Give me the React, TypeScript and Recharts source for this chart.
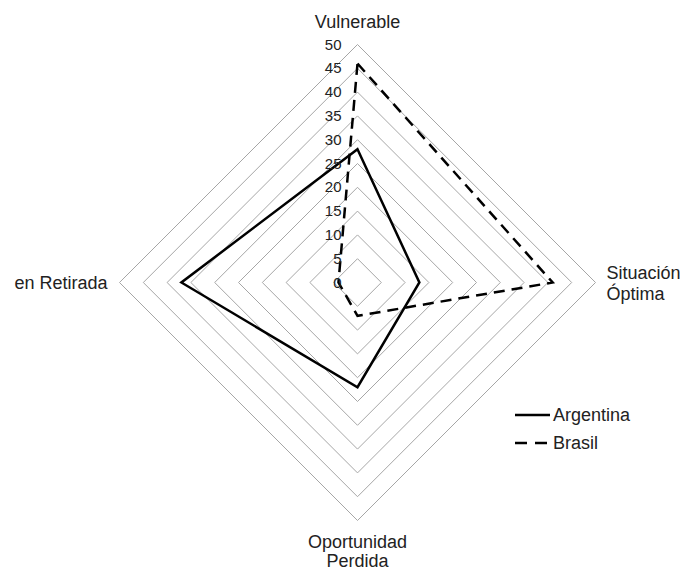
import React from 'react';
import { RadarChart, Radar, PolarGrid, PolarAngleAxis, PolarRadiusAxis, Legend } from 'recharts';

const axes = ['Vulnerable', 'Situación\nÓptima', 'Oportunidad\nPerdida', 'en Retirada'];
const argentina = [28, 13, 22, 37];
const brasil = [46, 41, 7, 4];
const radiusTicks = [0, 5, 10, 15, 20, 25, 30, 35, 40, 45, 50];

const data = axes.map((name, i) => ({ name, argentina: argentina[i], brasil: brasil[i] }));

const FONT = '"Liberation Sans", Arial, sans-serif';
const TEXT = '#222';
const LABEL_SIZE = 18;

const AngleTick = (props: any) => {
  const { x, y, payload, index } = props;
  const lines = String(payload.value).split('\n');
  let anchor: 'middle' | 'start' | 'end' = 'middle';
  let dx = 0;
  let dy = 0;
  let lh = 21;
  if (index === 0) { dy = -9; }
  else if (index === 1) { anchor = 'start'; dx = 3; dy = -4; }
  else if (index === 2) { dy = 19; lh = 19; }
  else { anchor = 'end'; dx = -4; dy = 6; }
  return (
    <text x={x + dx} y={y + dy} textAnchor={anchor} fontSize={LABEL_SIZE} fontFamily={FONT} fill={TEXT}>
      {lines.map((l, i) => (
        <tspan key={i} x={x + dx} dy={i === 0 ? 0 : lh}>{l}</tspan>
      ))}
    </text>
  );
};

const RadiusTick = (props: any) => {
  const { x, y, payload } = props;
  return (
    <text x={x - 16} y={y + 5} textAnchor="end" fontSize={15} fontFamily={FONT} fill={TEXT}>
      {payload.value}
    </text>
  );
};

const LegendContent = () => (
  <svg width={150} height={60}>
    <line x1={2} y1={10} x2={37} y2={10} stroke="#000" strokeWidth={2.5} />
    <text x={40} y={16} fontSize={LABEL_SIZE} fontFamily={FONT} fill={TEXT}>Argentina</text>
    <line x1={2} y1={38} x2={37} y2={38} stroke="#000" strokeWidth={2.5} strokeDasharray="12 8" />
    <text x={40} y={44} fontSize={LABEL_SIZE} fontFamily={FONT} fill={TEXT}>Brasil</text>
  </svg>
);

export default function App() {
  return (
    <div style={{ position: 'absolute', left: 0, top: 0, width: 682, height: 569, background: '#fff' }}>
      <RadarChart width={682} height={569} data={data} cx={357.5} cy={282.5} outerRadius={238}
        margin={{ top: 0, right: 0, bottom: 0, left: 0 }}>
        <PolarGrid gridType="polygon" radialLines={false} stroke="#a6a6a6" strokeWidth={1} />
        <PolarAngleAxis dataKey="name" tick={<AngleTick />} tickLine={false} axisLine={false} />
        <PolarRadiusAxis angle={90} domain={[0, 50]} ticks={radiusTicks} tickCount={11}
          axisLine={false} tickLine={false} tick={<RadiusTick />} />
        <Radar name="Argentina" dataKey="argentina" stroke="#000" strokeWidth={2.5} fill="none"
          fillOpacity={0} isAnimationActive={false} />
        <Radar name="Brasil" dataKey="brasil" stroke="#000" strokeWidth={2.5} strokeDasharray="11 7"
          fill="none" fillOpacity={0} isAnimationActive={false} />
        <Legend content={<LegendContent />} layout="vertical" verticalAlign="top" align="left"
          wrapperStyle={{ left: 513, top: 405, width: 150 }} />
      </RadarChart>
    </div>
  );
}
